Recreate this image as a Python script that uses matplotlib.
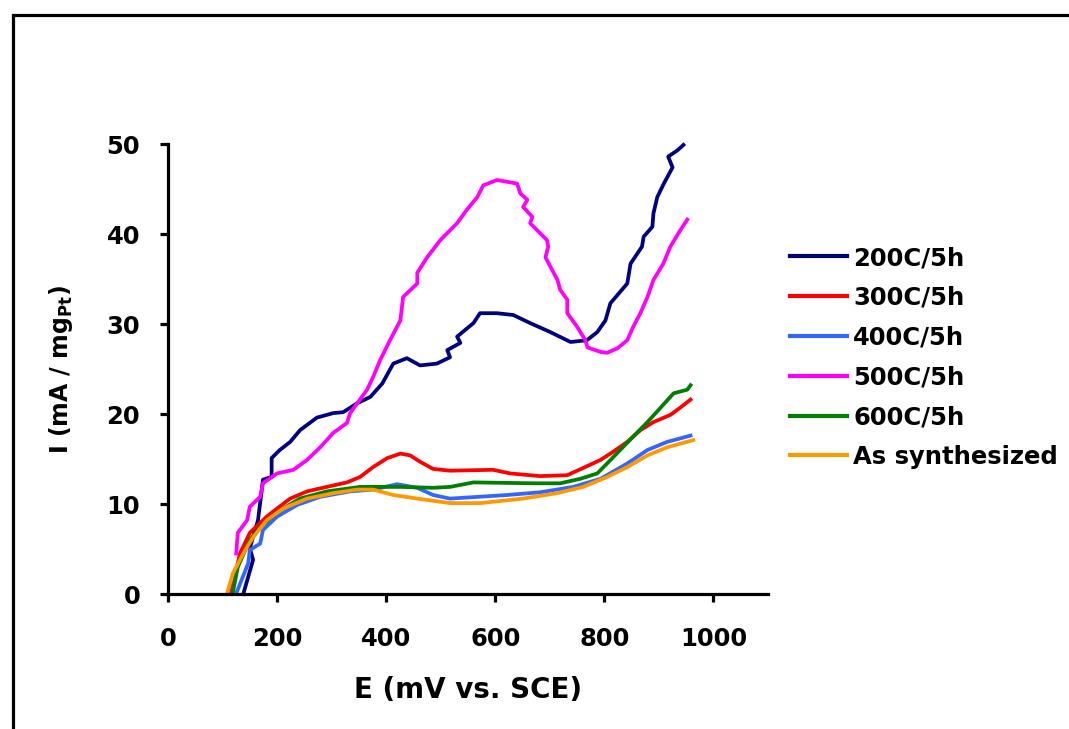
import matplotlib
matplotlib.use("Agg")
import matplotlib.pyplot as plt
from matplotlib.patches import Rectangle

# ---- data ----
labels = ["200C/5h", "300C/5h", "400C/5h", "500C/5h", "600C/5h", "As synthesized"]
colors = ["#000080", "#FF0000", "#3366FF", "#FF00FF", "#008000", "#FF9900"]

e_200 = [138, 156, 150, 165, 172, 174, 190, 190, 205, 224, 242, 273, 303, 321, 347, 371, 393,
         413, 438, 462, 493, 517, 512, 536, 530, 560, 572, 603, 633, 664, 701, 738, 768, 787,
         802, 811, 842, 848, 869, 872, 888, 890, 897, 909, 925, 917, 934, 945]
i_200 = [0.0, 3.8, 5.1, 8.2, 11.6, 12.7, 13.0, 15.1, 16.0, 16.9, 18.2, 19.6, 20.1, 20.2, 21.2,
         21.9, 23.4, 25.6, 26.2, 25.4, 25.6, 26.3, 27.1, 27.9, 28.6, 30.1, 31.2, 31.2, 31.0,
         30.1, 29.1, 28.0, 28.2, 29.1, 30.4, 32.3, 34.5, 36.7, 38.6, 39.7, 40.8, 42.3, 44.1,
         45.6, 47.4, 48.6, 49.3, 49.9]

e_300 = [115, 132, 150, 181, 200, 224, 255, 291, 328, 352, 376, 402, 426, 444, 462, 486, 517,
         596, 627, 682, 732, 761, 793, 816, 842, 866, 890, 921, 939, 958]
i_300 = [0.0, 4.5, 6.8, 8.6, 9.5, 10.6, 11.4, 11.9, 12.4, 13.0, 14.1, 15.1, 15.6, 15.4, 14.7,
         13.9, 13.7, 13.8, 13.4, 13.1, 13.2, 14.0, 14.9, 15.8, 16.9, 18.2, 19.1, 19.9, 20.7, 21.6]

e_400 = [126, 147, 150, 169, 174, 200, 237, 279, 334, 376, 420, 457, 486, 517, 622, 682, 743,
         793, 842, 879, 915, 958]
i_400 = [0.2, 3.4, 4.9, 5.6, 7.1, 8.6, 9.9, 10.8, 11.4, 11.6, 12.2, 11.8, 11.0, 10.6, 11.0,
         11.3, 11.9, 12.8, 14.5, 16.0, 16.9, 17.6]

e_500 = [125, 128, 145, 150, 169, 174, 200, 230, 255, 279, 303, 328, 334, 347, 365, 376, 389,
         407, 426, 431, 457, 457, 475, 499, 512, 530, 548, 567, 578, 603, 640, 646, 659, 651,
         668, 664, 695, 697, 692, 714, 719, 732, 732, 750, 765, 769, 793, 805, 824, 842, 853,
         866, 879, 890, 908, 921, 939, 952]
i_500 = [4.5, 6.8, 8.2, 9.7, 10.8, 12.3, 13.4, 13.8, 14.9, 16.3, 17.9, 19.0, 20.1, 21.2, 22.7,
         24.1, 26.0, 28.2, 30.4, 33.0, 34.5, 35.7, 37.4, 39.3, 40.1, 41.2, 42.7, 44.1, 45.4,
         46.0, 45.6, 44.5, 43.8, 43.0, 41.9, 41.2, 39.3, 38.6, 37.4, 34.9, 33.8, 32.7, 31.2,
         29.7, 28.2, 27.4, 26.9, 26.8, 27.3, 28.2, 29.7, 31.2, 33.0, 34.9, 36.7, 38.6, 40.4, 41.6]

e_600 = [119, 128, 150, 169, 200, 242, 291, 352, 426, 486, 517, 560, 670, 719, 756, 787, 805,
         829, 853, 879, 903, 927, 952, 958]
i_600 = [0.2, 3.0, 6.0, 7.4, 9.1, 10.6, 11.4, 11.9, 11.9, 11.8, 11.9, 12.4, 12.3, 12.3, 12.8,
         13.4, 14.5, 16.0, 17.5, 19.1, 20.7, 22.3, 22.7, 23.2]

e_as = [108, 119, 138, 156, 181, 211, 255, 303, 347, 376, 413, 457, 517, 572, 651, 713, 761,
        805, 842, 879, 915, 963]
i_as = [0.0, 2.3, 4.5, 6.3, 8.2, 9.5, 10.6, 11.2, 11.6, 11.6, 11.0, 10.6, 10.1, 10.1, 10.6,
        11.2, 11.9, 13.0, 14.1, 15.4, 16.3, 17.1]

xticks = [0, 200, 400, 600, 800, 1000]
yticks = [0, 10, 20, 30, 40, 50]

series_e = [e_200, e_300, e_400, e_500, e_600, e_as]
series_i = [i_200, i_300, i_400, i_500, i_600, i_as]

# ---- figure ----
plt.rcParams['font.family'] = ['DejaVu Sans']
plt.rcParams['font.weight'] = 'bold'
plt.rcParams['mathtext.fontset'] = 'dejavusans'

W, H = 1069, 729
fig = plt.figure(figsize=(W / 100, H / 100), dpi=100)
fig.patch.set_facecolor('white')

# outer frame (extends past right & bottom edges)
fig.patches.append(Rectangle((12.5 / W, -0.2), 1.5, 1.2 - 14.5 / H,
                             transform=fig.transFigure, fill=False,
                             edgecolor='black', linewidth=2.3))

ax = fig.add_axes([168 / W, 1 - 594 / H, 600 / W, 450 / H])

for e, i, c, lab in zip(series_e, series_i, colors, labels):
    ax.plot(e, i, color=c, lw=2.7, label=lab, clip_on=False, solid_joinstyle='round')

ax.set_xlim(0, 1100)
ax.set_ylim(0, 50)
ax.set_xticks(xticks)
ax.set_yticks(yticks)
for s in ['top', 'right']:
    ax.spines[s].set_visible(False)
for s in ['left', 'bottom']:
    ax.spines[s].set_linewidth(2.3)
ax.tick_params(axis='both', direction='out', length=6, width=2.3, labelsize=17.5)
ax.tick_params(axis='x', pad=18)
ax.tick_params(axis='y', pad=14)
for t in ax.get_xticklabels() + ax.get_yticklabels():
    t.set_fontweight('bold')

ax.set_xlabel('E (mV vs. SCE)', fontsize=20, fontweight='bold', va='center')
ax.xaxis.set_label_coords(0.5, -0.213)
ax.set_ylabel(r'I (mA / mg$_{\mathbf{Pt}}$)', fontsize=17, fontweight='bold', va='center')
ax.yaxis.set_label_coords(-0.178, 0.5)

leg = fig.legend(loc='upper left', bbox_to_anchor=(790 / W, 1 - 246 / H),
                 frameon=False, fontsize=17.5, handlelength=2.35, handletextpad=0.26,
                 labelspacing=0.65, borderpad=0, borderaxespad=0)
for t in leg.get_texts():
    t.set_fontweight('bold')
for l in leg.get_lines():
    l.set_linewidth(3)

fig.savefig('out.png', dpi=100)
